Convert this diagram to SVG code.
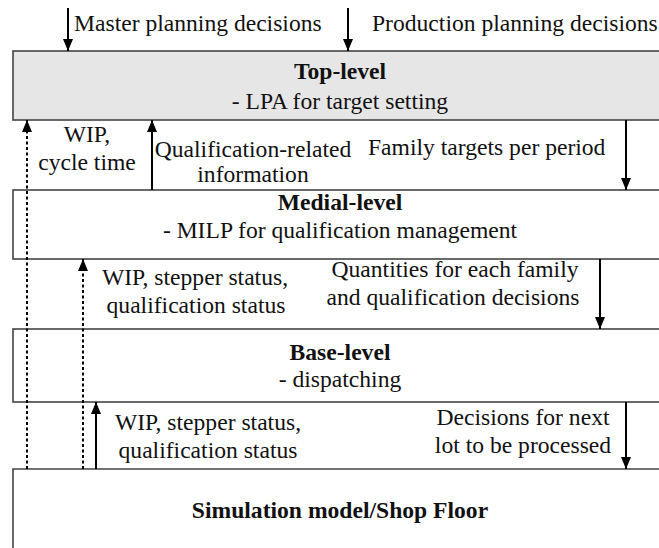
<svg xmlns="http://www.w3.org/2000/svg" width="659" height="548" viewBox="0 0 659 548">
<defs>
<marker id="ah" markerUnits="userSpaceOnUse" markerWidth="12" markerHeight="10" refX="12" refY="5" orient="auto">
<path d="M0,0 L12,5 L0,10 z" fill="#000"/>
</marker>
<style>
text{font-family:"Liberation Serif","Times New Roman",serif;font-size:23.6px;fill:#111}
.b{font-weight:bold}
.m{text-anchor:middle}
.box{stroke:#444;stroke-width:1.6}
.arr{stroke:#000;stroke-width:2;fill:none;marker-end:url(#ah)}
.dot{stroke:#000;stroke-width:2;fill:none;stroke-dasharray:3,2.5}
</style>
</defs>
<rect width="659" height="548" fill="#fff"/>
<g id="top-level">
<rect class="box" x="13" y="51" width="660" height="69" fill="#e6e6e6"/>
<text class="b m" x="340" y="79">Top-level</text>
<text class="m" x="340" y="109">- LPA for target setting</text>
</g>
<g id="medial-level">
<rect class="box" x="13" y="190" width="660" height="69" fill="#fff"/>
<text class="b m" x="340" y="210">Medial-level</text>
<text class="m" x="340" y="238">- MILP for qualification management</text>
</g>
<g id="base-level">
<rect class="box" x="13" y="329" width="660" height="73" fill="#fff"/>
<text class="b m" x="340" y="360">Base-level</text>
<text class="m" x="340" y="387">- dispatching</text>
</g>
<g id="simulation">
<path class="box" d="M13,548 L13,469 L673,469" fill="none"/>
<text class="b m" x="340" y="518">Simulation model/Shop Floor</text>
</g>
<g id="connectors">
<line class="arr" x1="68" y1="8" x2="68" y2="51"/>
<line class="arr" x1="348" y1="8" x2="348" y2="51"/>
<line class="dot" x1="27" y1="469" x2="27" y2="130"/>
<line class="arr" x1="27" y1="131" x2="27" y2="120"/>
<line class="arr" x1="152" y1="190" x2="152" y2="120"/>
<line class="arr" x1="626" y1="120" x2="626" y2="190"/>
<line class="dot" x1="83" y1="469" x2="83" y2="269"/>
<line class="arr" x1="83" y1="270" x2="83" y2="259"/>
<line class="arr" x1="600" y1="259" x2="600" y2="329"/>
<line class="arr" x1="96" y1="469" x2="96" y2="402"/>
<line class="arr" x1="626" y1="402" x2="626" y2="469"/>
</g>
<g id="labels">
<text x="74" y="31">Master planning decisions</text>
<text x="372" y="31">Production planning decisions</text>
<text class="m" x="87" y="142">WIP,</text>
<text class="m" x="87" y="170">cycle time</text>
<text class="m" x="253" y="157">Qualification-related</text>
<text class="m" x="253" y="182">information</text>
<text x="368" y="155">Family targets per period</text>
<text class="m" x="195" y="285">WIP, stepper status,</text>
<text class="m" x="196" y="313">qualification status</text>
<text class="m" x="455" y="277">Quantities for each family</text>
<text class="m" x="453" y="305">and qualification decisions</text>
<text class="m" x="208" y="430">WIP, stepper status,</text>
<text class="m" x="208" y="458">qualification status</text>
<text class="m" x="523" y="425">Decisions for next</text>
<text class="m" x="523" y="453">lot to be processed</text>
</g>
</svg>
